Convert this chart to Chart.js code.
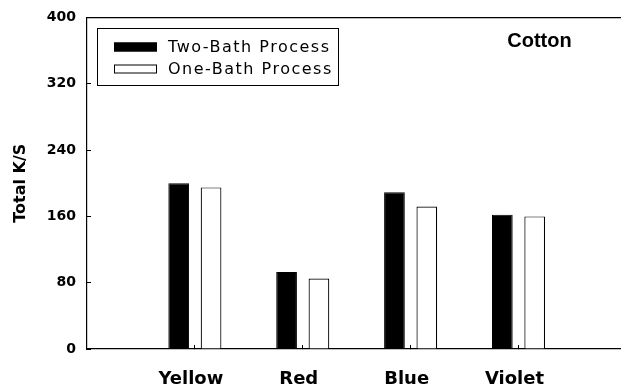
<!DOCTYPE html>
<html>
<head>
<meta charset="utf-8">
<script src="https://cdn.jsdelivr.net/npm/chart.js@4.4.1/dist/chart.umd.min.js"></script>
<style>
  html, body { margin: 0; padding: 0; background: #fff; overflow: hidden; }
  #wrap { width: 621px; height: 387px; }
</style>
</head>
<body>
<div id="wrap"><canvas id="c" width="621" height="387"></canvas></div>
<script>
// Dye shades on cotton
const categories = ['Yellow', 'Red', 'Blue', 'Violet'];
const twoBath = [200, 93, 189, 162];
const oneBath = [195, 85, 172, 160];
const yTicks = [0, 80, 160, 240, 320, 400];
const seriesNames = ['Two-Bath Process', 'One-Bath Process'];
const panelTitle = 'Cotton';
const yTitle = 'Total K/S';

Chart.defaults.font.family = '"DejaVu Sans", sans-serif';
Chart.defaults.color = '#000';

const toPoints = vals => categories.map((c, i) => ({ x: i + 1, y: vals[i] }));

// Boxed legend in the upper-left corner of the plot, plus the panel name
const boxLegend = {
  id: 'boxLegend',
  afterDraw(chart) {
    const { ctx, chartArea } = chart;
    const x0 = Math.round(chartArea.left + 10);
    const y0 = Math.round(chartArea.top + 10);
    ctx.save();
    ctx.strokeStyle = '#000';
    ctx.lineWidth = 1;
    ctx.strokeRect(x0 + 0.5, y0 + 0.5, 241, 57);
    chart.data.datasets.forEach((ds, i) => {
      const cy = y0 + 19 + i * 22;
      ctx.fillStyle = ds.backgroundColor;
      ctx.fillRect(x0 + 17, cy - 4.5, 43, 9);
      ctx.strokeRect(x0 + 17.5, cy - 4, 42, 8);
      ctx.fillStyle = '#000';
      ctx.font = '16px "DejaVu Sans"';
      ctx.letterSpacing = '1.5px';
      ctx.textAlign = 'left';
      ctx.textBaseline = 'middle';
      ctx.fillText(ds.label, x0 + 71, cy + 0.5);
    });
    ctx.letterSpacing = '0px';
    ctx.font = 'bold 20px "Liberation Sans"';
    ctx.textAlign = 'center';
    ctx.textBaseline = 'middle';
    ctx.fillText(panelTitle, 539.5, 41.5);
    ctx.restore();
  }
};

new Chart(document.getElementById('c'), {
  type: 'bar',
  data: {
    datasets: [
      { label: seriesNames[0], data: toPoints(twoBath), backgroundColor: '#000', borderColor: '#000', borderWidth: 1 },
      { label: seriesNames[1], data: toPoints(oneBath), backgroundColor: '#fff', borderColor: '#000', borderWidth: 1.2 }
    ]
  },
  options: {
    responsive: false,
    animation: false,
    layout: { padding: { top: 17.5, right: 0, left: 0, bottom: 0 } },
    datasets: { bar: { categoryPercentage: 0.6, barPercentage: 0.64 } },
    plugins: { legend: { display: false }, tooltip: { enabled: false } },
    scales: {
      x: {
        type: 'linear',
        offset: false,
        min: 0,
        max: 4.95,
        afterBuildTicks: s => { s.ticks = categories.map((c, i) => ({ value: i + 1 })); },
        ticks: {
          autoSkip: false, maxRotation: 0, padding: 24, labelOffset: -4,
          font: { size: 18, weight: 'bold' },
          callback: v => categories[v - 1]
        },
        grid: { offset: false, drawOnChartArea: false, tickLength: -4, color: '#000', lineWidth: 1 },
        border: { color: '#000', width: 1.2 },
        afterFit: s => { s.height = 38; s.paddingLeft = 0; s.paddingRight = 0; }
      },
      top: {
        type: 'linear',
        position: 'top',
        display: true,
        offset: false,
        min: 0,
        max: 4.95,
        ticks: { display: false },
        grid: { offset: false, drawOnChartArea: false, drawTicks: false },
        border: { display: true, color: '#000', width: 1.2 },
        afterFit: s => { s.height = 0; s.paddingLeft = 0; s.paddingRight = 0; }
      },
      y: {
        min: 0,
        max: 400,
        afterBuildTicks: s => { s.ticks = yTicks.map(v => ({ value: v })); },
        ticks: { padding: 15, font: { size: 14, weight: 'bold' } },
        grid: { drawOnChartArea: false, tickLength: -4, color: '#000', lineWidth: 1 },
        border: { color: '#000', width: 1.2 },
        title: {
          display: true, text: yTitle,
          font: { size: 16, weight: 'bold' },
          padding: { top: 11, bottom: 0 }
        },
        afterFit: s => { s.width = 87; s.paddingTop = 0; s.paddingBottom = 0; }
      }
    }
  },
  plugins: [boxLegend]
});
</script>
</body>
</html>
